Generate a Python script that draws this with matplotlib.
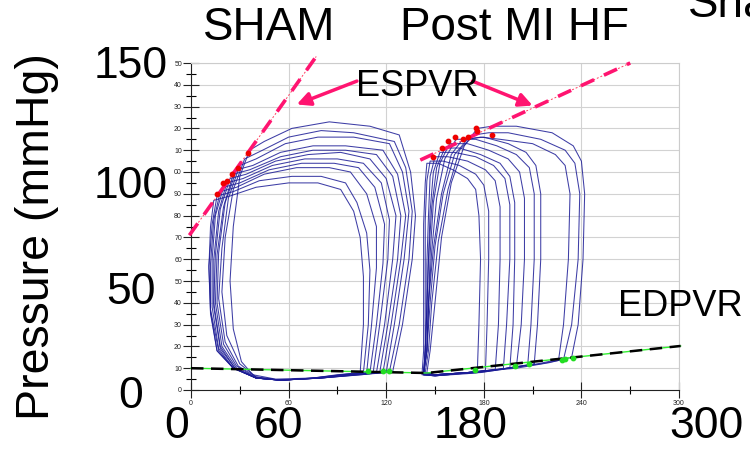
import matplotlib
matplotlib.use('Agg')
import matplotlib.pyplot as plt
from matplotlib.ticker import MultipleLocator, FixedLocator, FixedFormatter

plt.rcParams['font.family'] = ['Liberation Sans', 'DejaVu Sans']

# pressure-volume loops, (volume, pressure) vertices
sham_loops = [
    [(124, 8.5), (130, 30), (136, 60), (138, 80), (135, 100), (128, 117), (110, 121), (85, 123), (62, 120), (45, 114),
     (36, 110), (30, 98), (26, 75), (24, 50), (26, 28), (31, 13), (38, 7), (52, 5), (75, 5.5), (100, 7), (124, 8.5)],
    [(122, 8.5), (128, 30), (134, 60), (136, 82), (132, 102), (125, 114), (100, 118), (80, 119), (60, 116), (44, 110),
     (33, 106), (26, 92), (21, 70), (19, 45), (22, 25), (30, 12), (40, 6), (55, 4.5), (80, 5.5), (105, 7), (122, 8.5)],
    [(120, 8), (125, 30), (131, 60), (134, 82), (130, 100), (122, 113), (100, 116), (78, 116), (58, 113), (40, 106),
     (30, 103), (23, 88), (19, 65), (17, 42), (21, 22), (29, 11), (40, 6), (55, 4.5), (80, 5.5), (104, 7), (120, 8)],
    [(118, 8), (123, 30), (129, 60), (132, 80), (127, 99), (118, 110), (95, 112), (75, 112), (55, 109), (38, 103),
     (28, 101), (21, 86), (17, 63), (16, 40), (20, 21), (28, 11), (40, 5.5), (55, 4.5), (80, 5.5), (102, 7), (118, 8)],
    [(116, 8), (121, 30), (127, 60), (129, 80), (124, 98), (114, 108), (95, 110), (75, 110), (55, 107), (36, 101),
     (26, 99), (20, 84), (16, 62), (15, 40), (19, 20), (28, 10), (40, 5.5), (55, 4.5), (80, 5.5), (100, 7), (116, 8)],
    [(114, 8), (119, 30), (124, 60), (126, 80), (120, 97), (110, 106), (92, 109), (72, 108), (52, 105), (34, 99),
     (24, 97), (18, 83), (15, 62), (14, 40), (18, 20), (27, 10), (40, 5.5), (55, 4.5), (80, 5.5), (98, 7), (114, 8)],
    [(112, 8), (116, 30), (121, 60), (122, 78), (117, 95), (106, 104), (90, 106), (70, 106), (50, 103), (32, 97),
     (22, 95), (17, 82), (14, 60), (14, 38), (18, 19), (27, 10), (40, 5.5), (55, 4.5), (78, 5.5), (96, 7), (112, 8)],
    [(110, 8), (114, 30), (118, 58), (119, 76), (113, 93), (103, 102), (88, 104), (68, 104), (48, 101), (30, 95),
     (20, 93), (15, 80), (13, 60), (13, 38), (17, 19), (26, 10), (40, 5.5), (55, 4.5), (78, 5.5), (95, 7), (110, 8)],
    [(108, 8), (111, 30), (114, 56), (114, 75), (108, 90), (98, 100), (85, 102), (65, 102), (45, 99), (28, 93),
     (18, 91), (14, 78), (12, 58), (12, 37), (17, 18), (26, 10), (40, 5.5), (55, 4.5), (76, 5.5), (93, 7), (108, 8)],
    [(106, 8), (109, 30), (110, 55), (108, 72), (102, 86), (95, 95), (80, 98), (62, 98), (42, 96), (26, 91),
     (16, 89), (13, 76), (11, 57), (12, 36), (16, 18), (26, 10), (40, 5.5), (55, 4.5), (75, 5.5), (92, 7), (106, 8)],
    [(104, 8), (106, 30), (106, 52), (104, 70), (100, 82), (92, 92), (78, 95), (60, 95), (40, 93), (24, 89),
     (14, 87), (12, 75), (11, 56), (12, 35), (16, 18), (26, 10), (40, 5.5), (55, 4.5), (75, 5.5), (90, 7), (104, 8)],
]

hf_loops = [
    [(234, 15), (238, 30), (241, 60), (242, 90), (240, 105), (235, 112), (222, 118), (200, 121), (185, 121), (176, 120),
     (168, 112), (160, 95), (154, 70), (150, 40), (147, 18), (145, 8), (150, 7), (170, 8), (200, 10), (220, 12.5), (234, 15)],
    [(229, 14), (234, 30), (238, 60), (239, 90), (236, 104), (230, 110), (215, 115), (195, 118), (183, 118), (174, 117),
     (165, 110), (158, 92), (152, 68), (148, 40), (146, 18), (144, 8), (150, 7), (170, 8), (195, 10), (215, 12), (229, 14)],
    [(226, 14), (229, 30), (232, 60), (233, 90), (230, 103), (224, 108), (210, 113), (190, 115), (178, 116), (170, 115),
     (162, 108), (155, 90), (150, 66), (147, 40), (145, 18), (143, 8), (150, 7), (170, 8), (195, 10), (213, 12), (226, 14)],
    [(211, 12), (213, 30), (215, 60), (215, 90), (212, 103), (206, 109), (195, 113), (180, 116), (167, 115),
     (160, 108), (154, 90), (149, 65), (146, 40), (145, 18), (143, 7.5), (150, 7), (170, 8), (190, 9.5), (211, 12)],
    [(207, 11.5), (209, 30), (211, 60), (211, 90), (208, 102), (200, 108), (188, 112), (175, 115), (163, 115),
     (156, 106), (151, 88), (148, 64), (146, 40), (145, 18), (143, 7.5), (150, 7), (170, 8), (190, 9.5), (207, 11.5)],
    [(200, 10.5), (203, 30), (205, 60), (205, 88), (202, 100), (195, 106), (183, 110), (170, 113), (159, 113),
     (153, 104), (149, 86), (147, 62), (146, 38), (145, 18), (143, 7.5), (150, 7), (170, 8), (185, 9), (200, 10.5)],
    [(196, 10), (198, 30), (199, 60), (199, 86), (196, 98), (190, 104), (178, 108), (165, 111), (156, 111),
     (151, 102), (148, 84), (146, 60), (145, 38), (144, 18), (143, 7), (150, 7), (170, 8), (185, 9), (196, 10)],
    [(192, 9.5), (194, 30), (196, 60), (196, 85), (193, 97), (186, 103), (175, 107), (162, 109), (153, 109),
     (149, 100), (147, 82), (146, 60), (145, 38), (144, 18), (143, 7), (150, 6.5), (170, 7.5), (182, 8.5), (192, 9.5)],
    [(187, 9), (189, 30), (190, 60), (190, 84), (187, 96), (181, 101), (170, 105), (158, 107), (150, 107),
     (147, 98), (146, 80), (145, 58), (145, 36), (144, 18), (143, 7), (150, 6.5), (165, 7.5), (178, 8), (187, 9)],
    [(181, 8.5), (182, 30), (183, 60), (183, 82), (180, 94), (175, 99), (165, 103), (155, 105), (147, 105),
     (145, 96), (144, 78), (144, 56), (144, 36), (144, 18), (143, 7), (150, 6.5), (165, 7.5), (181, 8.5)],
    [(176, 8), (177, 30), (178, 60), (177, 80), (175, 92), (170, 97), (161, 101), (152, 104), (145, 104),
     (144, 95), (143, 76), (143, 55), (143, 35), (143, 18), (142, 7), (150, 6.5), (165, 7.5), (176, 8)],
]

# end-systolic / end-diastolic points
sham_es_v = [16, 19.7, 22, 25, 29, 35]
sham_es_p = [90, 95, 96, 99, 102, 108.7]
hf_es_v = [149, 154, 158, 162, 167, 170, 175, 176, 185]
hf_es_p = [107, 111, 114, 116, 115, 116, 120, 119, 117]
sham_ed_v = [109, 118, 122]
sham_ed_p = [8.7, 8.6, 8.5]
hf_ed_v = [174.5, 199, 208, 228, 230, 235]
hf_ed_p = [9.4, 11.2, 12.0, 13.9, 14.3, 14.7]

# fitted relations
sham_espvr_v = [-1, 77]
sham_espvr_p = [71, 153]
hf_espvr_v = [141, 270]
hf_espvr_p = [105.5, 150]
edpvr_v = [0, 145, 301]
edpvr_p = [10, 7.8, 20.2]

pink = '#ff1470'
navy = '#1c1c96'

fig = plt.figure(figsize=(7.5, 4.51), dpi=100)
ax = fig.add_axes([191 / 750, 1 - 390 / 451, 488 / 750, 327 / 451])

for loop in sham_loops + hf_loops:
    v, p = zip(*loop)
    ax.plot(v, p, color=navy, lw=0.75, alpha=0.85, zorder=3)

# EDPVR: green thin line under black dashes
ax.plot(edpvr_v, edpvr_p, color='#33ee33', lw=1.0, zorder=4, clip_on=False)
ax.plot(edpvr_v, edpvr_p, color='black', lw=1.8, dashes=(5, 3), zorder=5, clip_on=False)
ax.scatter(sham_ed_v + hf_ed_v, sham_ed_p + hf_ed_p, s=10, color='#22dd22', zorder=6)

# ESPVR lines
for lv, lp in [(sham_espvr_v, sham_espvr_p), (hf_espvr_v, hf_espvr_p)]:
    ax.plot(lv, lp, color='#ff4060', lw=0.7, dashes=(2, 2), zorder=5, clip_on=False)
    ax.plot(lv, lp, color=pink, lw=2.6, dashes=(4, 3), zorder=6, clip_on=False)
ax.scatter(sham_es_v + hf_es_v, sham_es_p + hf_es_p, s=10, color='#ee0000', zorder=7)

# arrows from the ESPVR label
arrow = dict(arrowstyle='-|>', color=pink, lw=2.5, mutation_scale=20, shrinkA=0, shrinkB=0)
ax.annotate('', xy=(65, 131), xytext=(102, 141.7), arrowprops=arrow, annotation_clip=False, zorder=8)
ax.annotate('', xy=(210, 130.5), xytext=(173, 141.7), arrowprops=arrow, annotation_clip=False, zorder=8)

ax.set_xlim(0, 300)
ax.set_ylim(0, 150)

ax.xaxis.set_major_locator(MultipleLocator(60))
ax.xaxis.set_minor_locator(MultipleLocator(30))
yt = list(range(0, 151, 10))
ax.yaxis.set_major_locator(FixedLocator(yt))
ax.yaxis.set_major_formatter(FixedFormatter([str(t)[-2:] for t in yt]))
ax.yaxis.set_minor_locator(MultipleLocator(5))

ax.tick_params(axis='y', which='major', direction='inout', length=12, width=0.8, labelsize=5, pad=0.5,
               colors='#222222')
ax.tick_params(axis='y', which='minor', direction='inout', length=7, width=0.8)
ax.tick_params(axis='x', which='major', direction='inout', length=11, width=0.8, labelsize=5, pad=1.5,
               colors='#222222')
ax.tick_params(axis='x', which='minor', direction='inout', length=6, width=0.8)

ax.grid(True, which='major', color='#d2d2d2', lw=0.8, zorder=0)
ax.set_axisbelow(True)
for s in ['top', 'right']:
    ax.spines[s].set_color('#cccccc')
for s in ['left', 'bottom']:
    ax.spines[s].set_color('#222222')
    ax.spines[s].set_linewidth(0.8)


def px(x, y):
    return x / 750, 1 - y / 451


big = 32
for lab, y in [('150', 66.5), ('100', 186), ('50', 293), ('0', 397)]:
    fig.text(*px(131, y), lab, fontsize=big, ha='center', va='center')
for lab, x in [('0', 176.5), ('60', 279), ('180', 471), ('300', 706)]:
    fig.text(*px(x, 427), lab, fontsize=big, ha='center', va='center')

fig.text(*px(37, 237), 'Pressure (mmHg)', fontsize=33.5, rotation=90, ha='center', va='center')
fig.text(*px(269, 27.5), 'SHAM', fontsize=33, ha='center', va='center')
fig.text(*px(514, 27.5), 'Post MI HF', fontsize=33, ha='center', va='center')
fig.text(*px(688, 17), 'Sham', fontsize=33, ha='left', va='baseline')
fig.text(*px(417, 86.5), 'ESPVR', fontsize=26, ha='center', va='center')
fig.text(*px(680, 306), 'EDPVR', fontsize=26, ha='center', va='center')

plt.savefig('out.png', dpi=100)
